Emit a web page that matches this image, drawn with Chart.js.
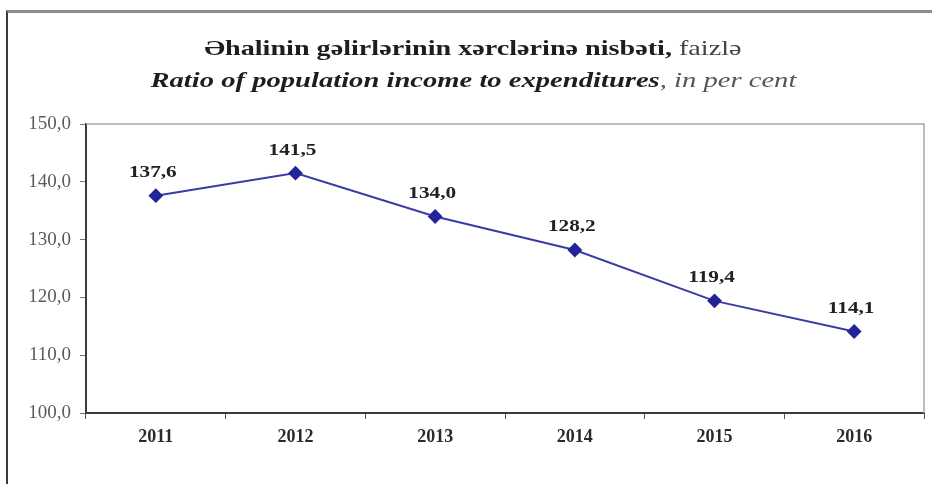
<!DOCTYPE html>
<html>
<head>
<meta charset="utf-8">
<script src="https://cdn.jsdelivr.net/npm/chart.js@4.4.1/dist/chart.umd.min.js"></script>
<style>
    body { margin: 0; background: #ffffff; }
    #wrap { position: relative; width: 932px; height: 484px; overflow: hidden; background: #ffffff; }
    #frame { position: absolute; left: 6px; top: 10px; width: 940px; height: 490px;
             border-top: 3px solid #8c8c8c; border-left: 2px solid #3a3a3a; }
    .title { position: absolute; left: 0; width: 946px; text-align: center;
             font-family: "Liberation Serif", "Times New Roman", serif; color: #1e1e1e; }
    .title span.inner { display: inline-block; transform: scaleX(1.28); }
    #t1 { top: 35px; font-size: 22px; font-weight: bold; }
    #t2 { top: 67px; font-size: 22px; font-weight: bold; font-style: italic; }
    #t2 span.inner { transform: scaleX(1.3); }
    #t1 .light { font-weight: normal; color: #444; }
    #t2 .light { font-weight: normal; color: #555; }
    canvas { position: absolute; left: 0; top: 0; }
</style>
</head>
<body>
<div id="wrap">
    <div id="frame"></div>
    <canvas id="chart" width="932" height="484"></canvas>
    <div class="title" id="t1"><span class="inner">Əhalinin gəlirlərinin xərclərinə nisbəti,<span class="light"> faizlə</span></span></div>
    <div class="title" id="t2"><span class="inner">Ratio of population income to expenditures<span class="light">, in per cent</span></span></div>
</div>
<script>
"use strict";

const years = ['2011', '2012', '2013', '2014', '2015', '2016'];
const ratio = [137.6, 141.5, 134.0, 128.2, 119.4, 114.1];
const yTicks = [100, 110, 120, 130, 140, 150];

const fmt = v => v.toFixed(1).replace('.', ',');

// light grey box on top and right of the plot
const plotBox = {
    id: 'plotBox',
    beforeDatasetsDraw(chart) {
        const a = chart.chartArea;
        const ctx = chart.ctx;
        ctx.save();
        ctx.strokeStyle = '#a8a8a8';
        ctx.lineWidth = 1.5;
        ctx.beginPath();
        ctx.moveTo(a.left, a.top);
        ctx.lineTo(a.right, a.top);
        ctx.lineTo(a.right, a.bottom);
        ctx.stroke();
        ctx.restore();
    }
};

// values above each marker
const valueLabels = {
    id: 'valueLabels',
    afterDatasetsDraw(chart) {
        const ctx = chart.ctx;
        const meta = chart.getDatasetMeta(0);
        ctx.save();
        ctx.font = 'bold 17px "Liberation Serif", serif';
        ctx.fillStyle = '#222222';
        ctx.textAlign = 'center';
        ctx.textBaseline = 'middle';
        meta.data.forEach((pt, i) => {
            ctx.save();
            ctx.translate(pt.x - 3, pt.y - 23);
            ctx.scale(1.25, 1);
            ctx.fillText(fmt(ratio[i]), 0, 0);
            ctx.restore();
        });
        ctx.restore();
    }
};

new Chart(document.getElementById('chart'), {
    type: 'line',
    data: {
        labels: years,
        datasets: [{
            data: ratio,
            borderColor: '#3b3ba8',
            borderWidth: 2,
            pointStyle: 'rectRot',
            pointRadius: 6,
            pointBackgroundColor: '#23239a',
            pointBorderColor: '#23239a',
            tension: 0
        }]
    },
    options: {
        responsive: false,
        animation: false,
        layout: { padding: { top: 124, right: 3, left: 0, bottom: 0 } },
        plugins: {
            legend: { display: false },
            tooltip: { enabled: false }
        },
        scales: {
            x: {
                offset: true,
                afterFit: scale => { scale.height = 71; },
                border: { color: '#3a3a3a', width: 2 },
                grid: { drawOnChartArea: false, tickLength: 6, color: '#555555', offset: true },
                ticks: {
                    padding: 8,
                    color: '#2a2a2a',
                    font: { family: '"Liberation Serif", serif', size: 18, weight: 'bold' }
                }
            },
            y: {
                min: 100,
                max: 150,
                afterFit: scale => { scale.width = 86; },
                afterBuildTicks: scale => { scale.ticks = yTicks.map(v => ({ value: v })); },
                border: { color: '#3a3a3a', width: 2 },
                grid: { drawOnChartArea: false, tickLength: 6, color: '#777777' },
                ticks: {
                    padding: 9,
                    color: '#5a5a5a',
                    font: { family: '"Liberation Serif", serif', size: 19 },
                    callback: v => fmt(v)
                }
            }
        }
    },
    plugins: [plotBox, valueLabels]
});
</script>
</body>
</html>
